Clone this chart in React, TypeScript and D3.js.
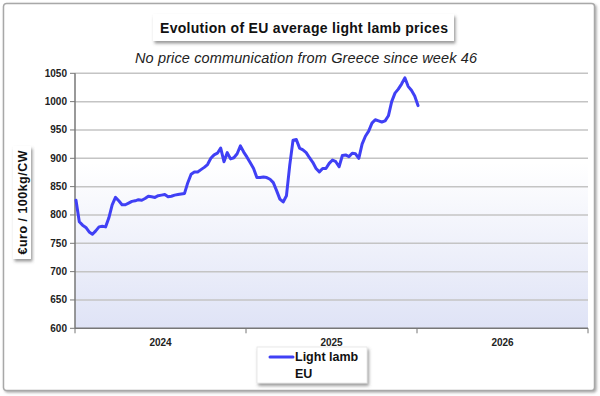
import React from 'react';
import * as d3 from 'd3';

// weekly EU light lamb price, €/100kg CW, starting week 1 of 2024
const years = ['2024', '2025', '2026'];
const yTicks = [600, 650, 700, 750, 800, 850, 900, 950, 1000, 1050];
const lightLambEU = [
  826, 788, 782, 778, 770, 766, 772, 779, 780, 779,
  795, 818, 831, 825, 818, 818, 821, 824, 825, 827,
  826, 829, 833, 832, 831, 834, 835, 836, 832, 833,
  835, 836, 837, 838, 857, 872, 876, 876, 880, 884,
  889, 900, 906, 909, 918, 894, 910, 899, 901, 908,
  922, 911, 902, 892, 882, 866, 866, 867, 866, 863,
  857, 843, 828, 823, 834, 888, 932, 933, 918, 915,
  910, 901, 893, 882, 876, 882, 882, 891, 897, 894,
  885, 905, 906, 903, 909, 908, 900, 925, 939, 948,
  962, 968, 966, 964, 966, 975, 1000, 1015, 1022, 1031,
  1042, 1027, 1020, 1010, 993,
];
const WEEKS = 52;

const font = '"Liberation Sans", Arial, sans-serif';

export default function App() {
  const W = 600, H = 396;
  const left = 75, right = 588, top = 73.3, bottom = 328.3;

  const x = d3.scaleLinear().domain([0, years.length * WEEKS]).range([left, right]);
  const band = d3.scaleBand().domain(years).range([left, right]);
  const y = d3.scaleLinear().domain([600, 1050]).range([bottom, top]);
  const path = d3.line<number>().x((d, i) => x(i) + 1).y(d => y(d))(lightLambEU) || '';

  const yearBounds = years.map(yr => band(yr) as number).concat([right]);

  return (
    <svg width={W} height={H} style={{ position: 'absolute', left: 0, top: 0, background: '#fff' }} fontFamily={font}>
      <defs>
        <linearGradient id="plotBg" x1="0" y1="0" x2="0" y2="1">
          <stop offset="0" stopColor="#ffffff" />
          <stop offset="0.35" stopColor="#ffffff" />
          <stop offset="1" stopColor="#dfe3f6" />
        </linearGradient>
        <filter id="shadow" x="-10%" y="-10%" width="130%" height="150%">
          <feDropShadow dx="1.5" dy="2.5" stdDeviation="1.5" floodColor="#555" floodOpacity="0.6" />
        </filter>
        <filter id="frameShadow" x="-5%" y="-5%" width="110%" height="110%">
          <feDropShadow dx="1.5" dy="1.5" stdDeviation="1.2" floodColor="#777" floodOpacity="0.6" />
        </filter>
      </defs>

      {/* outer frame */}
      <rect x={3.5} y={3.5} width={591} height={387} rx={3} fill="#fff" stroke="#a8a8a8" strokeWidth={1.5} filter="url(#frameShadow)" />

      {/* title */}
      <rect x={153} y={14} width={301} height={27} fill="#fff" filter="url(#shadow)" />
      <text x={304} y={33} textAnchor="middle" fontSize={14} fontWeight="bold" fill="#111" textLength={288}>
        Evolution of EU average light lamb prices
      </text>
      <text x={306} y={63} textAnchor="middle" fontSize={14.5} fontStyle="italic" fill="#222" textLength={342}>
        No price communication from Greece since week 46
      </text>

      {/* plot area */}
      <rect x={left} y={top} width={right - left} height={bottom - top} fill="url(#plotBg)" />
      {yTicks.map(t => (
        <g key={t}>
          {t > 600 && <line x1={left} x2={right} y1={y(t)} y2={y(t)} stroke="#c4c4c4" strokeWidth={1.5} />}
          <line x1={left - 5} x2={left} y1={y(t)} y2={y(t)} stroke="#777" strokeWidth={1} />
          <text x={left - 8} y={y(t)} dy="0.35em" textAnchor="end" fontSize={10} fontWeight="bold" fill="#222">{t}</text>
        </g>
      ))}
      <line x1={left} x2={left} y1={top} y2={bottom} stroke="#777" strokeWidth={1.5} />
      <line x1={left} x2={right} y1={bottom} y2={bottom} stroke="#777" strokeWidth={1.5} />
      {yearBounds.map((b, i) => (
        <line key={i} x1={b} x2={b} y1={bottom} y2={bottom + 5} stroke="#777" strokeWidth={1} />
      ))}
      {years.map(yr => (
        <text key={yr} x={(band(yr) as number) + band.bandwidth() / 2} y={346} textAnchor="middle" fontSize={10} fontWeight="bold" fill="#222">{yr}</text>
      ))}

      <path d={path} fill="none" stroke="#4040f5" strokeWidth={3} strokeLinejoin="round" strokeLinecap="round" />

      {/* y axis title */}
      <rect x={13} y={146} width={18} height={113} fill="#fff" filter="url(#shadow)" />
      <text transform={`translate(26.5,202.5) rotate(-90)`} textAnchor="middle" fontSize={12.5} fontWeight="bold" fill="#111" textLength={104}>
        €uro / 100kg/CW
      </text>

      {/* legend */}
      <rect x={257} y={347} width={110} height={36} fill="#fff" stroke="#e4e4e4" strokeWidth={0.8} filter="url(#shadow)" />
      <line x1={270} x2={293} y1={357} y2={357} stroke="#4040f5" strokeWidth={3} strokeLinecap="round" />
      <text x={295} y={361} fontSize={12.5} fontWeight="bold" fill="#111">Light lamb</text>
      <text x={295} y={378} fontSize={12.5} fontWeight="bold" fill="#111">EU</text>
    </svg>
  );
}
